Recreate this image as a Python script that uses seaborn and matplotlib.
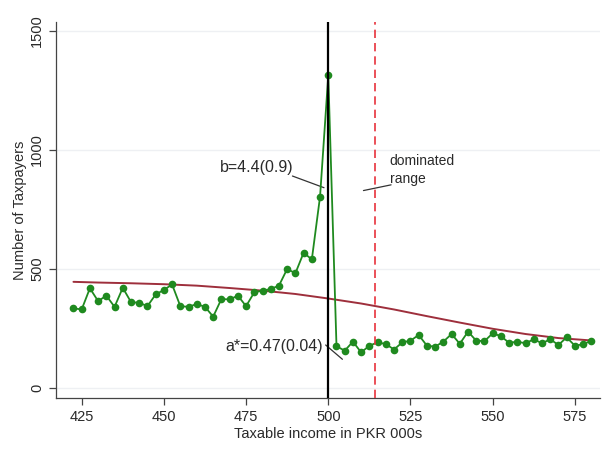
import numpy as np
import pandas as pd
import matplotlib
matplotlib.use("Agg")
import matplotlib.pyplot as plt
import seaborn as sns

# Observed bunching data (bin midpoints, PKR 000s)
income = [422.5, 425, 427.5, 430, 432.5, 435, 437.5, 440, 442.5, 445, 447.5, 450,
          452.5, 455, 457.5, 460, 462.5, 465, 467.5, 470, 472.5, 475, 477.5, 480,
          482.5, 485, 487.5, 490, 492.5, 495, 497.5, 500, 502.5, 505, 507.5, 510,
          512.5, 515, 517.5, 520, 522.5, 525, 527.5, 530, 532.5, 535, 537.5, 540,
          542.5, 545, 547.5, 550, 552.5, 555, 557.5, 560, 562.5, 565, 567.5, 570,
          572.5, 575, 577.5, 580]
taxpayers = [335, 330, 419, 365, 388, 341, 421, 361, 358, 344, 393, 412,
             435, 344, 341, 353, 341, 300, 374, 372, 388, 344, 402, 409,
             416, 430, 500, 482, 568, 540, 804, 1312, 176, 157, 195, 150,
             178, 192, 185, 162, 192, 199, 223, 178, 174, 195, 227, 186,
             237, 199, 197, 230, 218, 190, 195, 188, 205, 188, 205, 181,
             213, 178, 184, 199]

# Counterfactual fitted density
cf_income = [422.5, 430, 440, 450, 460, 470, 480, 490, 500, 510, 520, 530, 540, 550, 560, 570, 580]
cf_count = [446, 443, 440, 436, 430, 420, 409, 395, 376, 355, 330, 302, 275, 249, 227, 210, 200]

threshold = 500
dominated_end = 514.3

sns.set_style("white")
plt.rcParams['font.family'] = ['Liberation Sans', 'DejaVu Sans']

df = pd.DataFrame({"income": income, "taxpayers": taxpayers})
cf = pd.DataFrame({"income": cf_income, "count": cf_count})

fig = plt.figure(figsize=(6.09, 4.55), dpi=100)
ax = fig.add_axes([0.092, 0.125, 0.893, 0.827])

for yv in [0, 500, 1000, 1500]:
    ax.axhline(yv, color="#eef0f3", lw=1.0, zorder=0)

sns.lineplot(data=df, x="income", y="taxpayers", ax=ax, color="#1f8a1f",
             marker="o", markersize=5.5, markeredgewidth=0, lw=1.3, zorder=3)
sns.lineplot(data=cf, x="income", y="count", ax=ax, color="#9e2f3c", lw=1.4, zorder=2)

ax.axvline(threshold, color="black", lw=1.6, zorder=4)
ax.axvline(dominated_end, color="#e8323c", lw=1.2, ls=(0, (5, 3)), zorder=4)

txtc = "#2a2a2a"
ax.text(489.3, 924, "b=4.4(0.9)", ha="right", va="center", fontsize=11.5, color=txtc)
ax.plot([489.1, 498.7], [890, 841], color="#333333", lw=0.9)
ax.text(518.7, 916, "dominated\nrange", ha="left", va="center", fontsize=10,
        color=txtc, linespacing=1.4)
ax.plot([510.7, 519.1], [829, 853], color="#333333", lw=0.9)
ax.text(498.3, 173, "a*=0.47(0.04)", ha="right", va="center", fontsize=11.5, color=txtc)
ax.plot([499.2, 504.3], [181, 121], color="#333333", lw=0.9)

ax.set_xlim(417.2, 582.6)
ax.set_ylim(-42, 1537)
ax.set_xticks([425, 450, 475, 500, 525, 550, 575])
ax.set_yticks([0, 500, 1000, 1500])
ax.set_yticklabels(["0", "500", "1000", "1500"], rotation=90, va="center")
ax.tick_params(axis="both", direction="out", length=5, width=0.9, color="#444444",
               labelsize=10.5, labelcolor=txtc, bottom=True, left=True)
ax.set_xlabel("Taxable income in PKR 000s", fontsize=10.5, color=txtc, labelpad=2)
ax.set_ylabel("Number of Taxpayers", fontsize=10.5, color=txtc, labelpad=2)
for s in ["top", "right"]:
    ax.spines[s].set_visible(False)
for s in ["left", "bottom"]:
    ax.spines[s].set_color("#444444")
    ax.spines[s].set_linewidth(0.9)

fig.savefig("out.png", dpi=100)
